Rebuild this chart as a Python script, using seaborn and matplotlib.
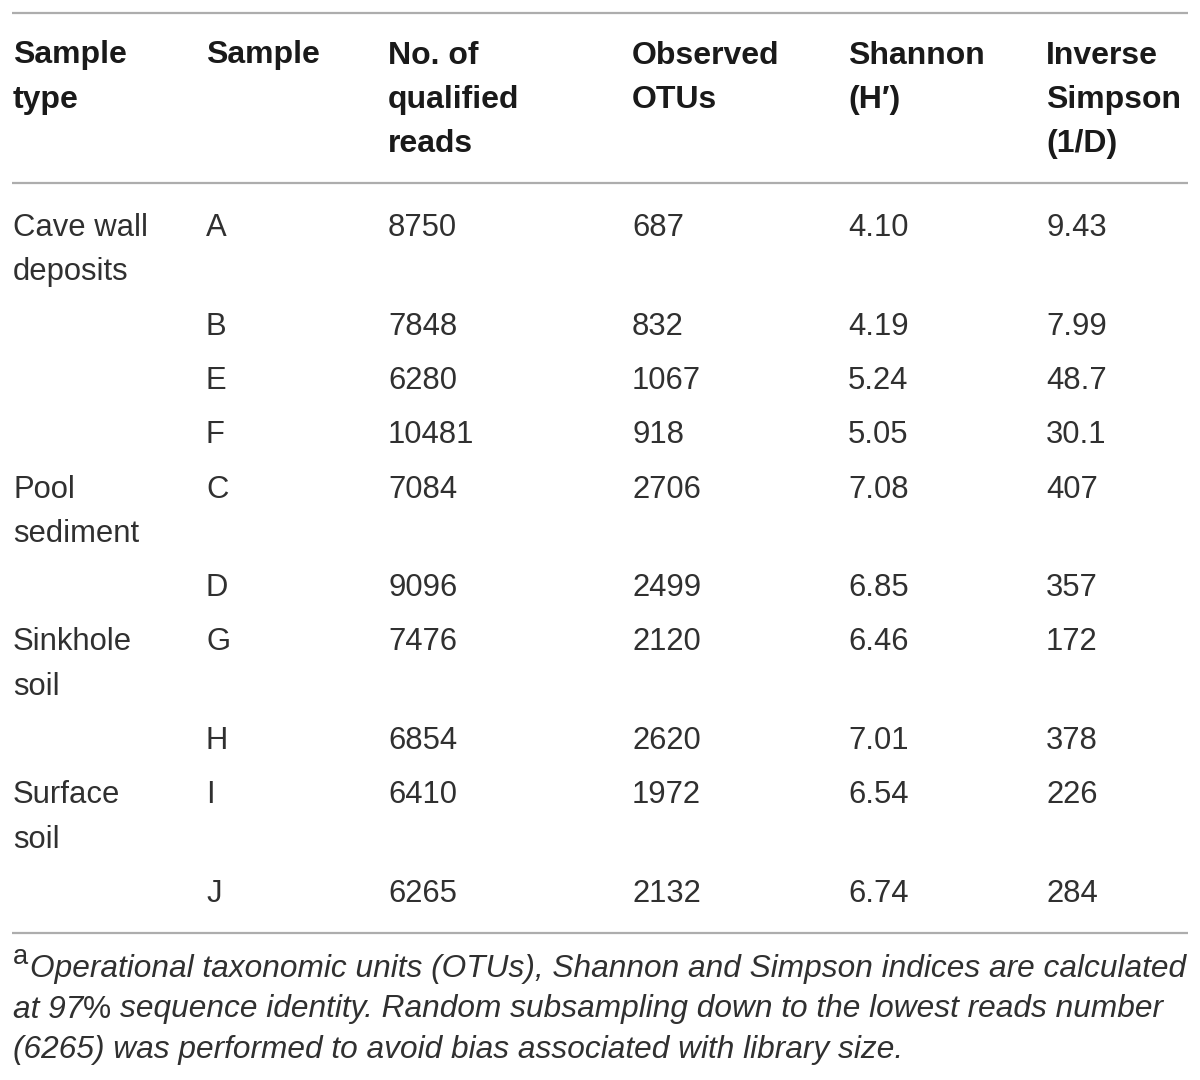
import matplotlib
matplotlib.use("Agg")
import matplotlib.pyplot as plt
import seaborn as sns
import pandas as pd

# ---------------- data ----------------
header_labels = ["Sample\ntype", "Sample", "No. of\nqualified\nreads",
                 "Observed\nOTUs", "Shannon\n(H\u2032)", "Inverse\nSimpson\n(1/D)"]
sample_types = ["Cave wall\ndeposits", "", "", "", "Pool\nsediment", "",
                "Sinkhole\nsoil", "", "Surface\nsoil", ""]
samples = ["A", "B", "E", "F", "C", "D", "G", "H", "I", "J"]
qualified_reads = [8750, 7848, 6280, 10481, 7084, 9096, 7476, 6854, 6410, 6265]
observed_otus = [687, 832, 1067, 918, 2706, 2499, 2120, 2620, 1972, 2132]
shannon = [4.10, 4.19, 5.24, 5.05, 7.08, 6.85, 6.46, 7.01, 6.54, 6.74]
inv_simpson = [9.43, 7.99, 48.7, 30.1, 407, 357, 172, 378, 226, 284]

footnote_lines = [
    [("a", "sup"), ("Operational taxonomic units (OTUs), Shannon and Simpson indices are calculated", "it")],
    [("at 97", "it"), ("%", "up"), (" sequence identity. Random subsampling down to the lowest reads number", "it")],
    [("(6265) was performed to avoid bias associated with library size.", "it")],
]

df = pd.DataFrame({
    "type": sample_types,
    "sample": samples,
    "reads": [str(v) for v in qualified_reads],
    "otus": [str(v) for v in observed_otus],
    "shannon": [f"{v:.2f}" for v in shannon],
    "simpson": [f"{v:.3g}" for v in inv_simpson],
})

# ---------------- style ----------------
sns.set_theme(style="white")
plt.rcParams["font.family"] = ["Liberation Sans", "DejaVu Sans"]

W, H = 1200, 1080
fig = plt.figure(figsize=(12, 10.8), dpi=100)
ax = fig.add_axes([0, 0, 1, 1])
ax.set_xlim(0, W)
ax.set_ylim(H, 0)
ax.axis("off")
sns.despine(ax=ax, left=True, bottom=True)

col_x = [13, 206, 388, 632, 848, 1046]
line_gap = 44.3
row_gap = 54.3
body_fs = 22.3
head_fs = 23.0
body_color = "#303030"
head_color = "#1a1a1a"
rule_color = "#adadad"

# rules
ax.hlines([12.5, 183, 932.5], 12, 1188, colors=rule_color, linewidth=1.6)

# header
y0 = 63.5
for x, lab in zip(col_x, header_labels):
    for k, ln in enumerate(lab.split("\n")):
        ax.text(x, y0 + k * line_gap, ln, fontsize=head_fs, fontweight="bold",
                color=head_color, ha="left", va="baseline")

# body
y = 236
cols = ["type", "sample", "reads", "otus", "shannon", "simpson"]
for _, row in df.iterrows():
    nlines = 1
    for x, c in zip(col_x, cols):
        parts = row[c].split("\n") if row[c] else []
        nlines = max(nlines, len(parts))
        for k, ln in enumerate(parts):
            ax.text(x, y + k * line_gap, ln, fontsize=body_fs, color=body_color,
                    ha="left", va="baseline")
    y += row_gap + line_gap * (nlines - 1)

# footnote (mixed runs)
fig.canvas.draw()
renderer = fig.canvas.get_renderer()


def run_width(s, fs, style):
    t = ax.text(0, 0, s, fontsize=fs, style=style)
    bb = t.get_window_extent(renderer=renderer)
    t.remove()
    return bb.width


def space_w(fs, style):
    return run_width("a a", fs, style) - run_width("aa", fs, style)


def style_of(kind):
    return {"sup": "normal", "it": "italic", "up": "normal"}[kind]


def draw_line(x, yb, runs, fs, draw=True):
    cx = x
    for s, kind in runs:
        f = fs * 0.86 if kind == "sup" else fs
        st = style_of(kind)
        lead = len(s) - len(s.lstrip(" "))
        s2 = s.lstrip(" ")
        cx += lead * space_w(f, st)
        dy = -13 if kind == "sup" else 0
        if draw:
            ax.text(cx, yb + dy, s2, fontsize=f, style=st, color=body_color,
                    ha="left", va="baseline")
        cx += run_width(s2, f, st) + (1.5 if kind == "sup" else 0)
    return cx - x


# fit footnote font size so first line spans the table width
trial = 20.0
wtrial = draw_line(13, 0, footnote_lines[0], trial, draw=False)
foot_fs = trial * (1182 - 13) / wtrial

foot_y = [976.5, 1017.5, 1058]
for yb, runs in zip(foot_y, footnote_lines):
    draw_line(13, yb, runs, foot_fs)

fig.savefig("out.png", dpi=100)
